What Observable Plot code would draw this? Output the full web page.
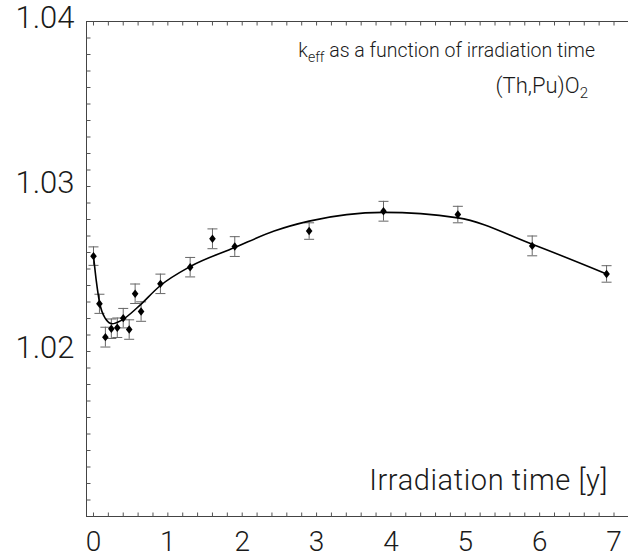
<!DOCTYPE html>
<html><head><meta charset="utf-8">
<script src="https://cdn.jsdelivr.net/npm/d3@7"></script>
<script src="https://cdn.jsdelivr.net/npm/@observablehq/plot@0.6"></script>
<style>body{margin:0;background:#fff;font-family:Roboto,"Liberation Sans",Arial,sans-serif}</style>
</head><body><div id="chart"></div>
<script>
// measured points
const times   = [0, 0.08, 0.16, 0.24, 0.32, 0.40, 0.48, 0.56, 0.64, 0.9, 1.3, 1.6, 1.9, 2.9, 3.9, 4.9, 5.9, 6.9];
const keff    = [1.02578, 1.02289, 1.02087, 1.02138, 1.02144, 1.02202, 1.02133, 1.02350, 1.02242, 1.02410, 1.02511, 1.02683, 1.02636, 1.0273, 1.0285, 1.0283, 1.0264, 1.0247];
const keffErr = [0.00056, 0.00058, 0.0006, 0.00059, 0.00059, 0.00059, 0.00059, 0.00059, 0.00059, 0.00059, 0.00059, 0.0006, 0.0006, 0.0005, 0.0006, 0.0005, 0.0006, 0.0005];
// fitted curve
const fitTimes = [0, 0.04, 0.08, 0.16, 0.25, 0.38, 0.6, 0.9, 1.3, 1.9, 2.43, 2.9, 3.9, 4.9, 5.9, 6.9];
const fitKeff  = [1.0258, 1.0242, 1.0230, 1.0220, 1.02168, 1.0219, 1.0227, 1.0240, 1.02515, 1.0263, 1.0273, 1.0279, 1.02843, 1.0281, 1.0265, 1.0247];
// axes
const xDomain = [-0.094, 7.195];
const yDomain = [1.01, 1.04];
const xTickLabels = [0, 1, 2, 3, 4, 5, 6, 7];
const yTickLabels = [1.02, 1.03, 1.04];
const xMinorTicks = d3.range(0, 7.2, 0.2);
const yMinorTicks = d3.range(1.011, 1.0395, 0.001);

const points = times.map((t, i) => ({t, k: keff[i], e: keffErr[i]}));
const fit = fitTimes.map((t, i) => ({t, k: fitKeff[i]}));

// symbol shapes (pixel styles only)
const cap = {draw(ctx, size) { const w = Math.sqrt(size / Math.PI); ctx.moveTo(-w, 0); ctx.lineTo(w, 0); }};
const tickUp = {draw(ctx) { ctx.moveTo(0, 0); ctx.lineTo(0, -4); }};
const tickDown = {draw(ctx) { ctx.moveTo(0, 0); ctx.lineTo(0, 4); }};
const tickRight = {draw(ctx) { ctx.moveTo(0, 0); ctx.lineTo(4, 0); }};
const marker = {draw(ctx) { ctx.moveTo(0, -4.2); ctx.lineTo(3.3, 0); ctx.lineTo(0, 4.2); ctx.lineTo(-3.3, 0); ctx.closePath(); }};
const frameColor = "#444";
const tickColor = "#555";
const textColor = "#1a1a1a";
const font = "Roboto, Liberation Sans, Arial, sans-serif";

const chart = Plot.plot({
  width: 628, height: 559,
  marginLeft: 86, marginRight: 0, marginTop: 21, marginBottom: 43,
  style: {fontFamily: font, fontWeight: 300, color: textColor, background: "#fff"},
  x: {domain: xDomain, axis: null},
  y: {domain: yDomain, axis: null},
  marks: [
    Plot.ruleY(yDomain, {stroke: frameColor, strokeWidth: 1}),
    Plot.ruleX([xDomain[0]], {stroke: frameColor, strokeWidth: 1}),
    Plot.dot(xMinorTicks, {x: d => d, y: () => yDomain[0], symbol: tickUp, stroke: tickColor, strokeWidth: 1}),
    Plot.dot(xMinorTicks, {x: d => d, y: () => yDomain[1], symbol: tickDown, stroke: tickColor, strokeWidth: 1}),
    Plot.dot(yMinorTicks, {x: () => xDomain[0], y: d => d, symbol: tickRight, stroke: tickColor, strokeWidth: 1}),
    Plot.axisX(xTickLabels, {anchor: "bottom", tickSize: 0, tickPadding: 15, fontSize: 28, label: null, fill: textColor}),
    Plot.axisY(yTickLabels, {anchor: "left", tickSize: 0, tickPadding: 12, fontSize: 31, label: null, fill: textColor, dy: -3, tickFormat: d => d.toFixed(2)}),
    Plot.ruleX(points, {x: "t", y1: d => d.k - d.e, y2: d => d.k + d.e, stroke: "#666", strokeWidth: 1}),
    Plot.dot(points, {x: "t", y: d => d.k + d.e, symbol: cap, r: 5, stroke: "#666", strokeWidth: 1}),
    Plot.dot(points, {x: "t", y: d => d.k - d.e, symbol: cap, r: 5, stroke: "#666", strokeWidth: 1}),
    Plot.line(fit, {x: "t", y: "k", curve: "monotone-x", stroke: "#000", strokeWidth: 1.6}),
    Plot.dot(points, {x: "t", y: "k", symbol: marker, fill: "#000", stroke: "none"})
  ]
});

const svg = d3.select(chart);
const t1 = svg.append("text").attr("x", 595).attr("y", 57).attr("text-anchor", "end")
  .attr("font-size", 19.5).attr("fill", textColor);
t1.append("tspan").text("k");
t1.append("tspan").attr("font-size", 14).attr("dy", 5).text("eff");
t1.append("tspan").attr("dy", -5).text(" as a function of irradiation time");
const t2 = svg.append("text").attr("x", 588).attr("y", 93).attr("text-anchor", "end")
  .attr("font-size", 22).attr("fill", textColor);
t2.append("tspan").text("(Th,Pu)O");
t2.append("tspan").attr("font-size", 15).attr("dy", 5).text("2");
svg.append("text").attr("x", 608).attr("y", 490).attr("text-anchor", "end")
  .attr("font-size", 29).attr("letter-spacing", 0.6).attr("fill", textColor).text("Irradiation time [y]");

document.getElementById("chart").appendChild(chart);
</script>
</body></html>
